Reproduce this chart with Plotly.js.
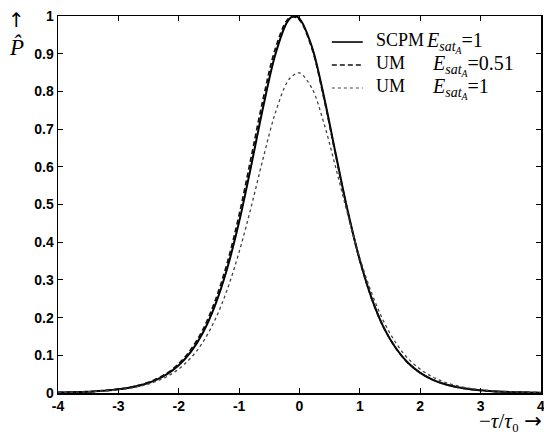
<!DOCTYPE html>
<html>
<head>
<meta charset="utf-8">
<script src="https://cdn.plot.ly/plotly-3.0.1.min.js"></script>
<style>html,body{margin:0;padding:0;background:#fff;}#chart{width:544px;height:435px;}</style>
</head>
<body>
<div id="chart"></div>
<script>
// normalized time  -tau/tau0
const tau = [-4.0,-3.8,-3.6,-3.4,-3.2,-3.0,-2.8,-2.6,-2.4,-2.2,-2.0,-1.8,-1.6,-1.4,-1.2,-1.0,-0.8,-0.6,-0.4,-0.2,-0.1,
             0.0,0.2,0.4,0.6,0.8,1.0,1.2,1.4,1.6,1.8,2.0,2.2,2.4,2.6,2.8,3.0,3.2,3.4,3.6,3.8,4.0];
// SCPM  E_satA = 1
const pScpm = [0.0012,0.0019,0.0028,0.0043,0.0064,0.0097,0.0146,0.0219,0.0329,0.0493,0.0735,0.109,0.160,0.232,0.329,0.454,0.603,0.760,0.898,0.985,1.000,
               0.993,0.921,0.790,0.634,0.482,0.352,0.249,0.172,0.118,0.0795,0.0535,0.0357,0.0237,0.0158,0.0105,0.0070,0.0046,0.0031,0.0020,0.0014,0.0009];
// UM  E_satA = 0.51
const pUm051 = [0.0013,0.0020,0.0030,0.0045,0.0068,0.0103,0.0155,0.0232,0.0348,0.052,0.0775,0.115,0.168,0.243,0.343,0.472,0.625,0.781,0.913,0.990,0.998,
                0.990,0.917,0.786,0.631,0.480,0.351,0.249,0.172,0.118,0.0795,0.0535,0.0357,0.0237,0.0158,0.0105,0.0070,0.0046,0.0031,0.0020,0.0014,0.0009];
// UM  E_satA = 1
const pUm1 = [0.0012,0.0018,0.0027,0.0040,0.0060,0.0089,0.0132,0.0197,0.0292,0.0432,0.0637,0.0932,0.135,0.194,0.273,0.374,0.494,0.624,0.743,0.826,0.843,
              0.849,0.810,0.718,0.598,0.473,0.358,0.263,0.188,0.132,0.091,0.063,0.043,0.029,0.0195,0.013,0.0088,0.006,0.004,0.0027,0.0018,0.0012];

const legendNames = ['SCPM','UM','UM'];
const eLabels = ['=1','=0.51','=1'];
const xTicks = [-4,-3,-2,-1,0,1,2,3,4];
const yTicks = [0,0.1,0.2,0.3,0.4,0.5,0.6,0.7,0.8,0.9,1];

const serif = '"Liberation Serif", "DejaVu Serif", serif';
const sans = '"Liberation Sans", Arial, sans-serif';

const styles = [
  {color: '#000', width: 2, dash: 'solid'},
  {color: '#111', width: 1.8, dash: '5px,3px'},
  {color: '#444', width: 1.3, dash: 'dot'}
];
const series = [pScpm, pUm051, pUm1];

const traces = series.map((s, i) => ({
  x: tau, y: s, name: legendNames[i], mode: 'lines',
  line: {color: styles[i].color, width: styles[i].width, dash: styles[i].dash, shape: 'spline'}
}));

const axisCommon = {
  showgrid: false, zeroline: false, showline: true, linecolor: '#000', linewidth: 1.5,
  mirror: 'ticks', ticks: 'inside', ticklen: 5, tickwidth: 1, tickcolor: '#000',
  ticklabeloverflow: 'allow',
  tickfont: {family: sans, size: 14, color: '#000', weight: 'bold'}
};

// hand-built legend (key lines in paper coordinates)
const rowY = [0.931, 0.870, 0.809];
const eX = [0.757, 0.770, 0.770];
const shapes = styles.map((st, i) => ({
  type: 'line', xref: 'paper', yref: 'paper', x0: 0.567, x1: 0.631, y0: rowY[i], y1: rowY[i],
  line: {color: st.color, width: st.width * 0.8, dash: st.dash}
}));

const eText = '<i>E</i><sub><i>sat</i><sub><i>A</i></sub></sub>';
const annotations = [];
legendNames.forEach((n, i) => {
  annotations.push({xref: 'paper', yref: 'paper', x: 0.654, y: rowY[i] + 0.006, xanchor: 'left', yanchor: 'middle',
    showarrow: false, text: n, font: {family: serif, size: 18, color: '#000'}});
  annotations.push({xref: 'paper', yref: 'paper', x: eX[i], y: rowY[i] - 0.002, xanchor: 'left', yanchor: 'middle',
    showarrow: false, text: eText + eLabels[i], font: {family: serif, size: 20, color: '#000'}});
});
annotations.push(
  {xref: 'paper', yref: 'paper', x: -0.085, y: 0.99, xanchor: 'center', yanchor: 'middle', showarrow: false,
   text: '↑', font: {family: '"DejaVu Sans", sans-serif', size: 20, color: '#000'}},
  {xref: 'paper', yref: 'paper', x: -0.085, y: 0.918, xanchor: 'center', yanchor: 'middle', showarrow: false,
   text: '<i>P̂</i>', font: {family: serif, size: 23, color: '#000'}},
  {xref: 'paper', yref: 'paper', x: 1.004, y: -0.073, xanchor: 'right', yanchor: 'middle', showarrow: false, borderpad: 0,
   text: '−<i>τ</i>/<i>τ</i>₀ <span style="font-family:DejaVu Sans">→</span>',
   font: {family: serif, size: 21, color: '#000'}}
);

const layout = {
  width: 544, height: 435,
  margin: {l: 58, r: 3, t: 16, b: 42},
  paper_bgcolor: '#fff', plot_bgcolor: '#fff',
  showlegend: false,
  xaxis: Object.assign({}, axisCommon, {range: [-4, 4], tickvals: xTicks, ticktext: xTicks.map(String)}),
  yaxis: Object.assign({}, axisCommon, {range: [0, 1], tickvals: yTicks, ticktext: yTicks.map(String)}),
  shapes: shapes,
  annotations: annotations
};

Plotly.newPlot('chart', traces, layout, {displayModeBar: false, staticPlot: true});
</script>
</body>
</html>
